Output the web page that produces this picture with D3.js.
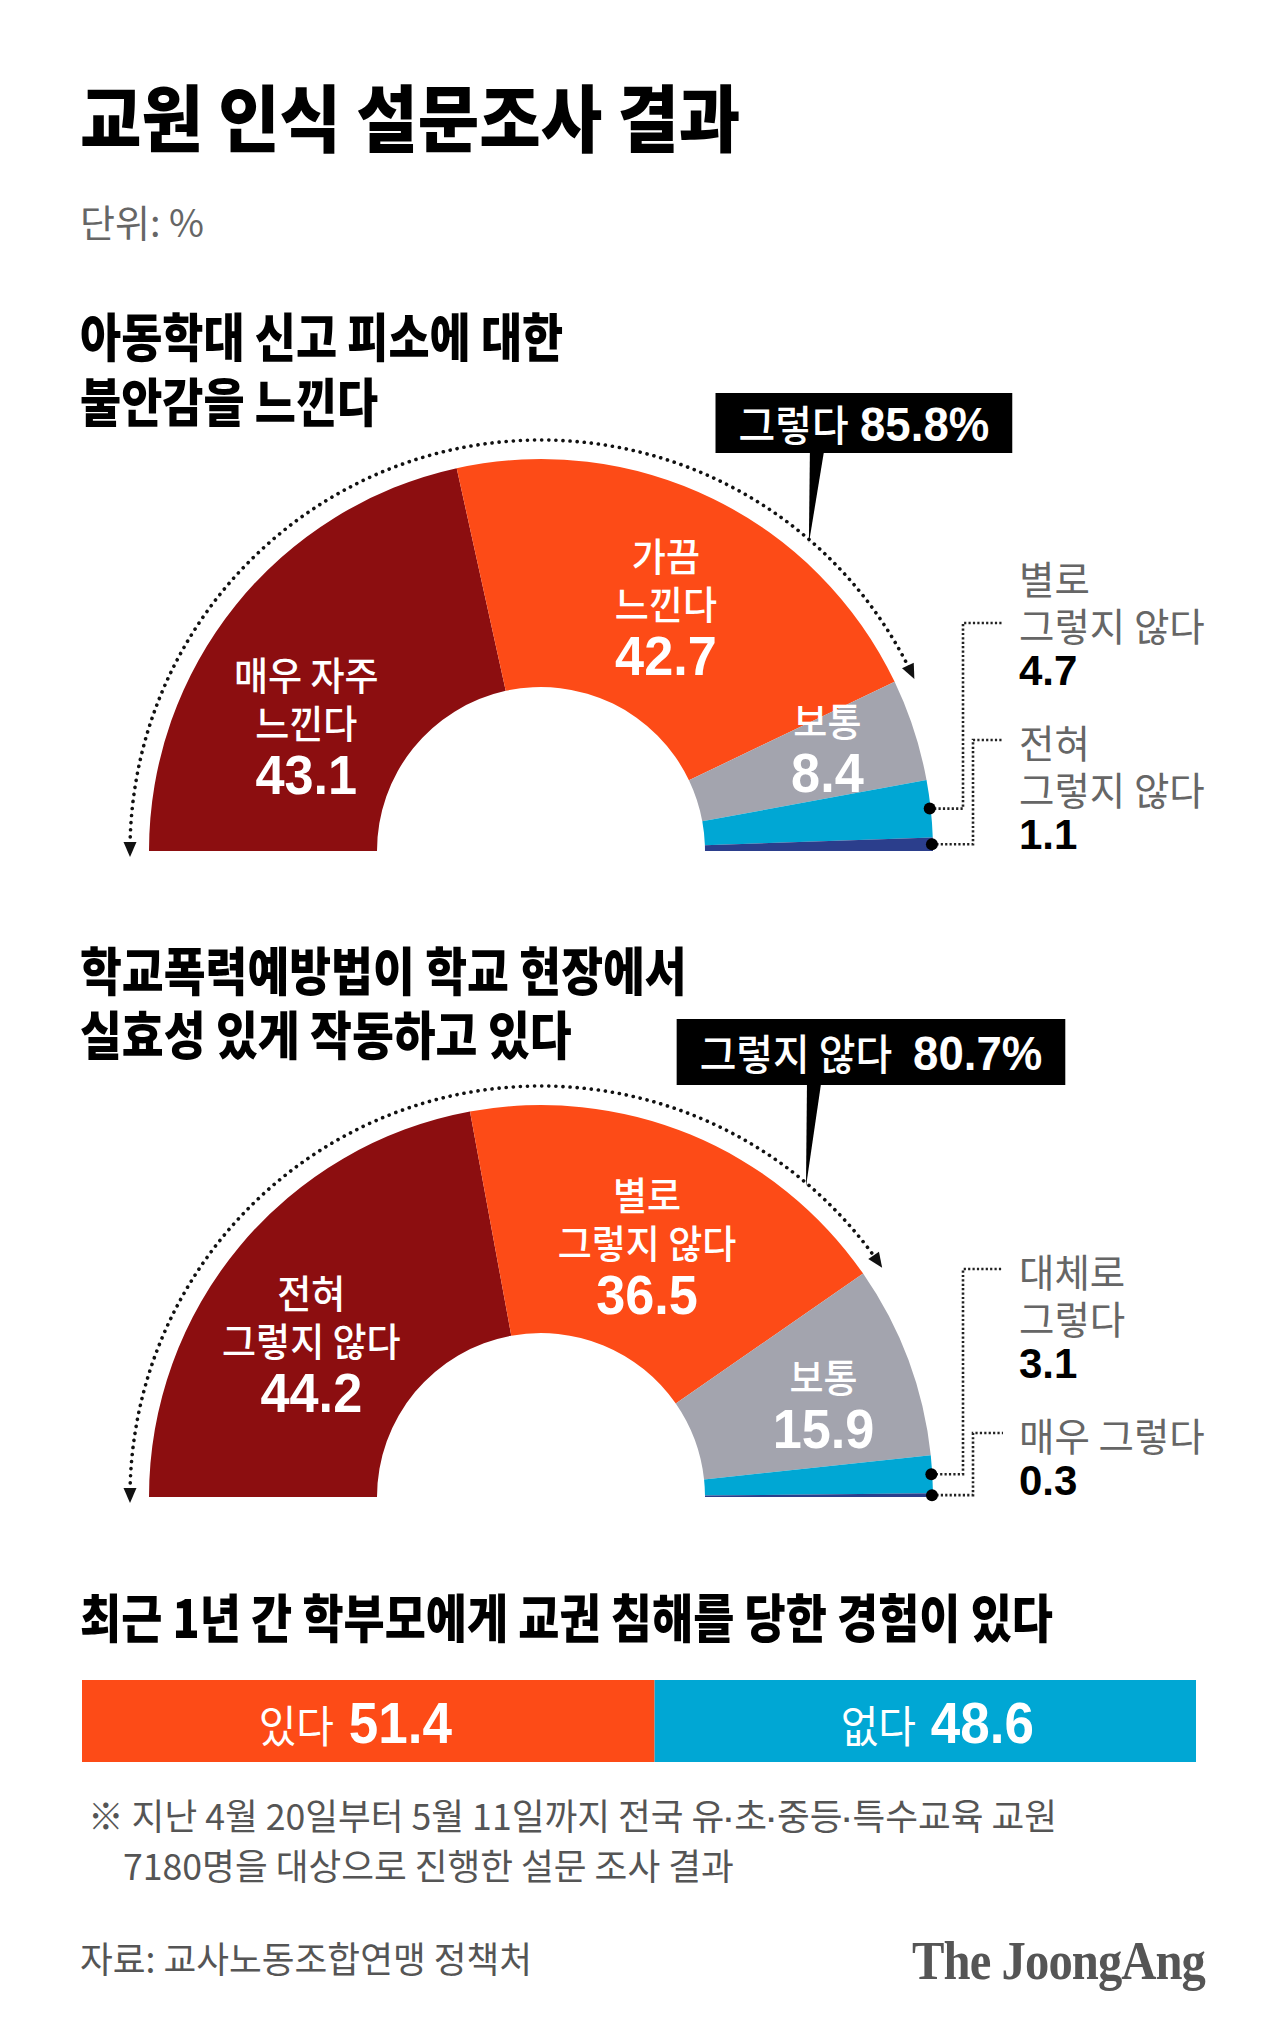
<!DOCTYPE html>
<html><head><meta charset="utf-8">
<script src="https://cdn.jsdelivr.net/npm/d3@7"></script>
<style>html,body{margin:0;padding:0;background:#fff;} svg{display:block;}</style>
</head><body>
<svg id="c" width="1280" height="2037"></svg>
<script>
// ---------------- data ----------------
const title = "교원 인식 설문조사 결과";
const unitLabel = "단위: %";

const chart1Title = ["아동학대 신고 피소에 대한", "불안감을 느낀다"];
const chart1Categories = [["매우 자주", "느낀다"], ["가끔", "느낀다"], ["보통"], ["별로", "그렇지 않다"], ["전혀", "그렇지 않다"]];
const chart1Values = [43.1, 42.7, 8.4, 4.7, 1.1];
const chart1CalloutLabel = "그렇다";
const chart1CalloutValue = 85.8;

const chart2Title = ["학교폭력예방법이 학교 현장에서", "실효성 있게 작동하고 있다"];
const chart2Categories = [["전혀", "그렇지 않다"], ["별로", "그렇지 않다"], ["보통"], ["대체로", "그렇다"], ["매우 그렇다"]];
const chart2Values = [44.2, 36.5, 15.9, 3.1, 0.3];
const chart2CalloutLabel = "그렇지 않다";
const chart2CalloutValue = 80.7;

const barTitle = "최근 1년 간 학부모에게 교권 침해를 당한 경험이 있다";
const barCategories = ["있다", "없다"];
const barValues = [51.4, 48.6];

const footnoteLines = ["※ 지난 4월 20일부터 5월 11일까지 전국 유·초·중등·특수교육 교원", "7180명을 대상으로 진행한 설문 조사 결과"];
const sourceLabel = "자료: 교사노동조합연맹 정책처";
const brandLabel = "The JoongAng";

// ---------------- style ----------------
const segColors = ["#8c0e10", "#fd4b17", "#a3a4ae", "#00a7d4", "#2b3e8c"];
const barColors = ["#fd4b17", "#00a7d4"];
const KR = "'Noto Sans CJK KR','Noto Sans',sans-serif";
const NUM = "'Liberation Sans',Arial,sans-serif";
const SERIF = "'Liberation Serif','DejaVu Serif',serif";

const svg = d3.select("#c");
const fmt = d3.format(".1f");

// one <text> per block; lines = [{cy, x?, parts:[{t,size,weight,family,fill,dx}]}]
function block(parent, x, lines, o = {}) {
  const g = parent.append("g").attr("transform", `translate(${x},0) scale(${o.sx || 1},1)`);
  const t = g.append("text").attr("text-anchor", o.anchor || "start");
  if (o.ls != null) t.attr("letter-spacing", o.ls);
  lines.forEach(line => {
    const maxSize = d3.max(line.parts, p => p.size);
    const base = line.cy + 0.36 * maxSize;
    line.parts.forEach((p, k) => {
      const s = t.append("tspan").text(p.t)
        .attr("font-size", p.size)
        .attr("font-weight", p.weight || 400)
        .attr("font-family", p.family || KR)
        .attr("fill", p.fill || o.fill || "#000");
      if (k === 0) s.attr("x", (line.x || 0) / (o.sx || 1)).attr("y", base);
      if (p.dx) s.attr("dx", p.dx);
    });
  });
  return { g, t, sx: o.sx || 1 };
}
function txt(parent, x, cy, parts, o = {}) {
  return block(parent, x, [{ cy, parts }], o);
}

// ---------------- header ----------------
txt(svg, 80, 120, [{ t: title, size: 73, weight: 900 }], { sx: 0.915 });
txt(svg, 80, 223, [{ t: unitLabel, size: 38, weight: 400, fill: "#666" }]);

function sectionTitle(lines, y0, gap, sx) {
  block(svg, 80, lines.map((l, i) => ({ cy: y0 + i * gap, parts: [{ t: l, size: 52, weight: 900 }] })), { sx });
}

// ---------------- half donut ----------------
function halfDonut(cfg) {
  const cx = 541, R = 392, r0 = 164, Rd = 411;
  const cy = cfg.cy;
  const angle = d3.scaleLinear().domain([0, 100]).range([-Math.PI / 2, Math.PI / 2]);
  const pie = d3.pie().sort(null).value(d => d).startAngle(-Math.PI / 2).endAngle(Math.PI / 2);
  const arcs = pie(cfg.values);
  const arc = d3.arc().innerRadius(r0).outerRadius(R);
  const g = svg.append("g").attr("transform", `translate(${cx},${cy})`);

  g.selectAll("path.seg").data(arcs).join("path").attr("class", "seg")
    .attr("d", arc).attr("fill", (d, i) => segColors[i]);

  // dotted bracket arc
  const aEnd = angle(cfg.calloutValue);
  const p = d3.path();
  p.moveTo(-Rd, 0);
  p.arc(0, 0, Rd, -Math.PI, aEnd - Math.PI / 2, false);
  g.append("path").attr("d", p.toString()).attr("fill", "none").attr("stroke", "#111")
    .attr("stroke-width", 3.6).attr("stroke-linecap", "round").attr("stroke-dasharray", "0.1 7");

  function arrowHead(x, y, dx, dy) {
    const L = 15, W = 6.5;
    const tx = x + dx * 6, ty = y + dy * 6;
    const bx = tx - dx * L, by = ty - dy * L;
    const nx = -dy, ny = dx;
    g.append("path").attr("d", `M${tx},${ty}L${bx + nx * W},${by + ny * W}L${bx - nx * W},${by - ny * W}Z`).attr("fill", "#111");
  }
  arrowHead(-Rd, 0, 0, 1);
  arrowHead(Rd * Math.sin(aEnd), -Rd * Math.cos(aEnd), Math.cos(aEnd), Math.sin(aEnd));

  // callout
  const aP = angle(cfg.lay.pointerAt);
  const tipX = (Rd - 3) * Math.sin(aP), tipY = -(Rd - 3) * Math.cos(aP);
  const boxTop = cfg.lay.boxTop - cy, boxH = cfg.lay.boxH;
  const boxG = g.append("g");
  const rect = boxG.append("rect").attr("fill", "#000");
  const ct = txt(boxG, tipX + cfg.lay.boxDx, boxTop + boxH / 2 + 1, [
    { t: cfg.calloutLabel, size: 42, weight: 500, fill: "#fff" },
    { t: fmt(cfg.calloutValue) + "%", size: 48, weight: 700, family: NUM, fill: "#fff", dx: cfg.lay.gap }
  ], { anchor: "middle", sx: 0.95 });
  const bb = ct.t.node().getBBox();
  const w = bb.width * ct.sx + 46;
  rect.attr("x", tipX + cfg.lay.boxDx - w / 2).attr("y", boxTop).attr("width", w).attr("height", boxH);
  boxG.insert("path", "g").attr("d", `M${tipX},${tipY}L${tipX + 1},${boxTop + boxH - 1}L${tipX + 15},${boxTop + boxH - 1}Z`).attr("fill", "#000");

  // inner labels for the three large segments
  const lr = (r0 + R) / 2;
  const LS = 48, NS = 50;
  arcs.slice(0, 3).forEach((d, i) => {
    const a = (d.startAngle + d.endAngle) / 2;
    const off = cfg.lay.labelOff[i];
    const x = lr * Math.sin(a) + off[0];
    const y = -lr * Math.cos(a) + off[1];
    const cats = cfg.cats[i];
    const n = cats.length;
    const yy = y - ((n - 1) * LS + NS) / 2;
    const lines = cats.map((l, j) => ({ cy: yy + j * LS, parts: [{ t: l, size: 39, weight: 500, fill: "#fff" }] }));
    lines.push({ cy: yy + (n - 1) * LS + NS, parts: [{ t: fmt(d.data), size: 55, weight: 700, family: NUM, fill: "#fff" }] });
    block(g, x, lines, { anchor: "middle", sx: 0.95 });
  });

  // side labels for the two small segments (stacked upward from baseline)
  const sx0 = 478;
  const side = [4, 3];
  let yCur = -17;
  const lineCenters = {};
  side.forEach((idx, k) => {
    if (k > 0) yCur -= 74;
    const numY = yCur;
    const cats = cfg.cats[idx];
    const ys = [];
    let ly = numY - 43;
    for (let j = cats.length - 1; j >= 0; j--) { ys[j] = ly; ly -= 47; }
    const lines = cats.map((l, j) => ({ cy: ys[j], parts: [{ t: l, size: 38.5, weight: 400, fill: "#666" }] }));
    lines.push({ cy: numY, parts: [{ t: fmt(arcs[idx].data), size: 42, weight: 700, family: NUM, fill: "#000" }] });
    block(g, sx0, lines);
    lineCenters[idx] = ys;
    yCur = ys[0];
  });

  // leaders
  [3, 4].forEach((idx, k) => {
    const d = arcs[idx];
    const a = (d.startAngle + d.endAngle) / 2;
    const dx = R * Math.sin(a) - 1, dy = -R * Math.cos(a);
    const ty = lineCenters[idx][cfg.lay.leaderLine[k]] - 4;
    const xv = k === 0 ? 422 : 432;
    g.append("path").attr("d", `M${dx},${dy}H${xv}V${ty}H462`).attr("fill", "none")
      .attr("stroke", "#222").attr("stroke-width", 2.6).attr("stroke-dasharray", "2.2 2.2");
    g.append("circle").attr("cx", dx).attr("cy", dy).attr("r", 6).attr("fill", "#000");
  });
}

sectionTitle(chart1Title, 338, 65, 0.86);
halfDonut({
  cy: 851, values: chart1Values, cats: chart1Categories,
  calloutLabel: chart1CalloutLabel, calloutValue: chart1CalloutValue,
  lay: { pointerAt: 72.8, boxDx: 55, boxTop: 393, boxH: 60, gap: 12,
         labelOff: [[-18, 48], [3, 5], [22, -18]], leaderLine: [1, 0] }
});

sectionTitle(chart2Title, 972, 64, 0.875);
halfDonut({
  cy: 1497, values: chart2Values, cats: chart2Categories,
  calloutLabel: chart2CalloutLabel, calloutValue: chart2CalloutValue,
  lay: { pointerAt: 72.5, boxDx: 65, boxTop: 1019, boxH: 66, gap: 22,
         labelOff: [[-16, 24], [0, 5], [22, 3]], leaderLine: [0, 0] }
});

// ---------------- stacked bar ----------------
txt(svg, 80, 1619, [{ t: barTitle, size: 52, weight: 900 }], { sx: 0.86 });
const bx = d3.scaleLinear().domain([0, d3.sum(barValues)]).range([82, 1196]);
const stack = d3.cumsum(barValues);
const barData = barValues.map((v, i) => ({ v, i, x0: i ? stack[i - 1] : 0, x1: stack[i] }));
svg.selectAll("rect.bar").data(barData).join("rect").attr("class", "bar")
  .attr("x", d => bx(d.x0)).attr("width", d => bx(d.x1) - bx(d.x0))
  .attr("y", 1680).attr("height", 82).attr("fill", d => barColors[d.i]);
const barLabelNudge = [-13, 12];
barData.forEach(d => {
  txt(svg, (bx(d.x0) + bx(d.x1)) / 2 + barLabelNudge[d.i], 1722, [
    { t: barCategories[d.i], size: 44, weight: 400, fill: "#fff" },
    { t: fmt(d.v), size: 57, weight: 700, family: NUM, fill: "#fff", dx: 16 }
  ], { anchor: "middle", sx: 0.93 });
});

// ---------------- footnote & source ----------------
function footParts(str) {
  const parts = [];
  str.split("·").forEach((s, i, arr) => {
    parts.push({ t: s, size: 36, weight: 400, fill: "#555" });
    if (i < arr.length - 1) parts.push({ t: "·", size: 30, weight: 700, family: NUM, fill: "#555" });
  });
  return parts;
}
block(svg, 88, [
  { cy: 1817, parts: footParts(footnoteLines[0]) },
  { cy: 1867, x: 35, parts: footParts(footnoteLines[1]) }
], { sx: 0.99 });
txt(svg, 80, 1960, [{ t: sourceLabel, size: 36, weight: 400, fill: "#555" }], { sx: 0.99 });
txt(svg, 1205, 1960, [{ t: brandLabel, size: 54, weight: 700, family: SERIF, fill: "#555" }], { anchor: "end", sx: 0.9, ls: -1 });
</script>
</body></html>
